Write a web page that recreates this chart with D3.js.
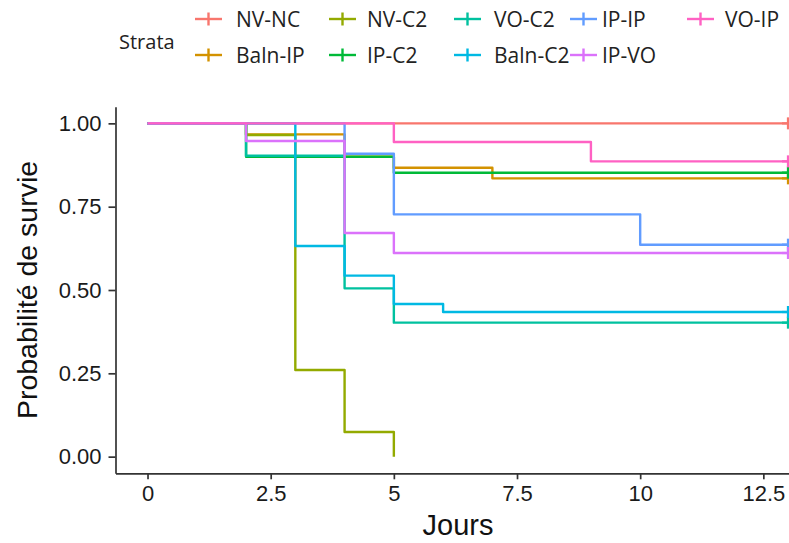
<!DOCTYPE html>
<html>
<head>
<meta charset="utf-8">
<script src="https://cdn.jsdelivr.net/npm/d3@7"></script>
<style>
  html, body { margin: 0; padding: 0; background: #fff; }
  svg { display: block; }
</style>
</head>
<body>
<div id="chart"></div>
<script>
// ---------- data ----------
const strata = ["NV-NC", "Baln-IP", "NV-C2", "IP-C2", "VO-C2", "Baln-C2", "IP-IP", "IP-VO", "VO-IP"];
const strataColors = ["#F8766D", "#D39200", "#93AA00", "#00BA38", "#00C19F", "#00B9E3", "#619CFF", "#DB72FB", "#FF61C3"];

const timesNVNC = [0, 13];                 const survNVNC = [1, 1];
const timesBalnIP = [0, 2, 4, 5, 7, 13];    const survBalnIP = [1, 0.967, 0.9, 0.867, 0.835, 0.835];
const timesNVC2 = [0, 2, 3, 4, 5];          const survNVC2 = [1, 0.965, 0.26, 0.074, 0];
const timesIPC2 = [0, 2, 5, 13];            const survIPC2 = [1, 0.9, 0.852, 0.852];
const timesVOC2 = [0, 2, 4, 5, 13];         const survVOC2 = [1, 0.903, 0.505, 0.402, 0.402];
const timesBalnC2 = [0, 3, 4, 5, 6, 13];    const survBalnC2 = [1, 0.632, 0.543, 0.458, 0.434, 0.434];
const timesIPIP = [0, 4, 5, 10, 13];        const survIPIP = [1, 0.909, 0.727, 0.636, 0.636];
const timesIPVO = [0, 2, 4, 5, 13];         const survIPVO = [1, 0.947, 0.671, 0.611, 0.611];
const timesVOIP = [0, 5, 9, 13];            const survVOIP = [1, 0.944, 0.886, 0.886];

// censored at end of follow-up (all strata except NV-C2)
const censorTime = 13;
const censored = ["NV-NC", "Baln-IP", "IP-C2", "VO-C2", "Baln-C2", "IP-IP", "IP-VO", "VO-IP"];

const xTicks = [0, 2.5, 5, 7.5, 10, 12.5];
const xTickLabels = ["0", "2.5", "5", "7.5", "10", "12.5"];
const yTicks = [0, 0.25, 0.5, 0.75, 1];
const yTickLabels = ["0.00", "0.25", "0.50", "0.75", "1.00"];

const legendTitle = "Strata";
const xTitle = "Jours";
const yTitle = "Probabilité de survie";

// build table
const timesList = [timesNVNC, timesBalnIP, timesNVC2, timesIPC2, timesVOC2, timesBalnC2, timesIPIP, timesIPVO, timesVOIP];
const survList = [survNVNC, survBalnIP, survNVC2, survIPC2, survVOC2, survBalnC2, survIPIP, survIPVO, survVOIP];
const series = strata.map((name, i) => ({
  name, color: strataColors[i],
  points: timesList[i].map((t, j) => ({ t, s: survList[i][j] }))
}));

// ---------- layout ----------
const W = 789, H = 543;
const svg = d3.select("#chart").append("svg").attr("width", W).attr("height", H)
  .style("font-family", "'Liberation Sans', Arial, sans-serif");

const x = d3.scaleLinear().domain([-0.65, 13.65]).range([115.5, 820]);
const y = d3.scaleLinear().domain([-0.05, 1.05]).range([473.3, 106.7]);

const axisColor = "#333";

// y axis
const yAxis = svg.append("g").attr("transform", `translate(${x(-0.65)},0)`)
  .call(d3.axisLeft(y).tickValues(yTicks).tickFormat((d, i) => yTickLabels[i]).tickSize(7).tickPadding(7).tickSizeOuter(0));
// x axis
const xAxis = svg.append("g").attr("transform", `translate(0,${y(-0.05)})`)
  .call(d3.axisBottom(x).tickValues(xTicks).tickFormat((d, i) => xTickLabels[i]).tickSize(6).tickPadding(6).tickSizeOuter(0));

[yAxis, xAxis].forEach(g => {
  g.select(".domain").attr("stroke", axisColor).attr("stroke-width", 1.7);
  g.selectAll(".tick line").attr("stroke", axisColor).attr("stroke-width", 1.7);
  g.selectAll(".tick text").attr("fill", "#1a1a1a").style("font-size", "22px")
    .style("font-family", "'Liberation Sans', Arial, sans-serif");
});

// curves
const line = d3.line().x(d => x(d.t)).y(d => y(d.s)).curve(d3.curveStepAfter);
const plot = svg.append("g");
series.forEach(s => {
  plot.append("path").datum(s.points)
    .attr("fill", "none").attr("stroke", s.color).attr("stroke-width", 2.4)
    .attr("stroke-linejoin", "round").attr("d", line);
});
// censor marks
series.forEach(s => {
  if (!censored.includes(s.name)) return;
  const last = s.points[s.points.length - 1];
  const cx = x(censorTime), cy = y(last.s);
  plot.append("line").attr("x1", cx).attr("x2", cx).attr("y1", cy - 6).attr("y2", cy + 6)
    .attr("stroke", s.color).attr("stroke-width", 2.2);
  plot.append("line").attr("x1", cx - 6).attr("x2", cx + 6).attr("y1", cy).attr("y2", cy)
    .attr("stroke", s.color).attr("stroke-width", 2.2);
});

// axis titles
svg.append("text").attr("x", 458).attr("y", 535).attr("text-anchor", "middle")
  .style("font-size", "29px").attr("fill", "#111").text(xTitle);
svg.append("text").attr("transform", `translate(37,290) rotate(-90)`).attr("text-anchor", "middle")
  .style("font-size", "28.5px").attr("fill", "#111").text(yTitle);

// legend
const legFont = "'Open Sans', 'Noto Sans', sans-serif";
svg.append("text").attr("x", 119).attr("y", 49).style("font-size", "20px")
  .style("font-family", legFont).attr("fill", "#222").text(legendTitle);
const colKeyX = [195, 329, 454, 570, 687];
const colTextX = [236, 367, 494, 602, 725];
const rowY = [19, 55];
strata.forEach((name, i) => {
  const col = Math.floor(i / 2), row = i % 2;
  const kx = colKeyX[col], ky = rowY[row];
  const g = svg.append("g");
  g.append("line").attr("x1", kx).attr("x2", kx + 27).attr("y1", ky).attr("y2", ky)
    .attr("stroke", strataColors[i]).attr("stroke-width", 2.4);
  g.append("line").attr("x1", kx + 13.5).attr("x2", kx + 13.5).attr("y1", ky - 6.5).attr("y2", ky + 6.5)
    .attr("stroke", strataColors[i]).attr("stroke-width", 2.4);
  g.append("text").attr("x", colTextX[col]).attr("y", ky).attr("dy", "0.36em")
    .style("font-size", "21px").style("font-family", legFont).attr("fill", "#222").text(name);
});
</script>
</body>
</html>
